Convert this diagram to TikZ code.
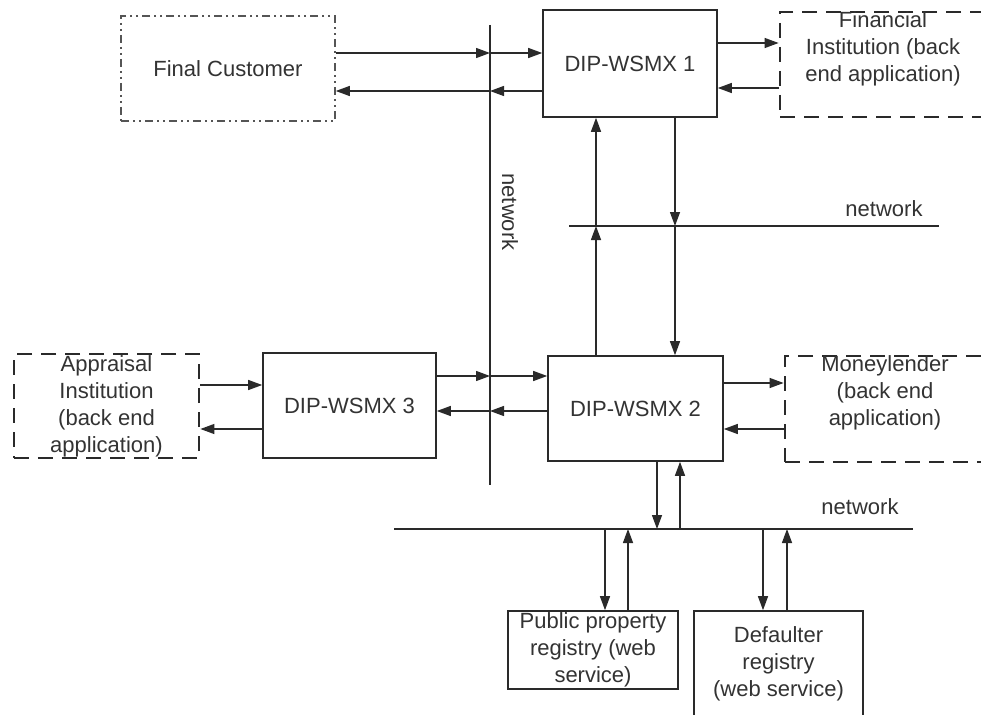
\documentclass[tikz,border=0pt]{standalone}
\usepackage{fontspec}
\setmainfont{Liberation Sans}
\usetikzlibrary{arrows.meta}
\definecolor{txt}{HTML}{333333}
\definecolor{ln}{HTML}{2A2A2A}
\definecolor{dd}{HTML}{555555}
\begin{document}
\begin{tikzpicture}[x=1bp,y=-1bp,
  every node/.style={font=\fontsize{22bp}{27bp}\selectfont, text=txt, inner sep=0pt, align=center},
  sbox/.style={draw=ln, line width=1.6bp, rectangle},
  dbox/.style={draw=ln, line width=2.8bp, rectangle, dash pattern=on 15bp off 9bp},
  ddbox/.style={draw=dd, line width=1.6bp, rectangle, dash pattern=on 8bp off 4bp on 2bp off 4bp on 2bp off 4bp},
  arr/.style={draw=ln, line width=1.3bp, -{Triangle[length=14bp,width=10bp]}},
  netline/.style={draw=ln, line width=1.4bp}
]
\useasboundingbox (0,0) rectangle (981,715);
\fill[white] (0,0) rectangle (981,715);
\clip (0,0) rectangle (981,715);

% boxes
\node[ddbox, minimum width=214bp, minimum height=105bp] (fc) at (228,68.5) {Final Customer};
\node[sbox, minimum width=174bp, minimum height=107bp] (d1) at (630,63.5) {DIP-WSMX 1};
\node[dbox, minimum width=206bp, minimum height=105bp] (fi) at (883,64.5) {};
\node (fitext) at (883,49) {Financial\\Institution (back\\end application)};
\node[sbox, minimum width=175bp, minimum height=105bp] (d2) at (635.5,408.5) {DIP-WSMX 2};
\node[dbox, minimum width=201bp, minimum height=106bp] (ml) at (885.5,409) {};
\node (mltext) at (885,393) {Moneylender\\(back end\\application)};
\node[sbox, minimum width=173bp, minimum height=105bp] (d3) at (349.5,405.5) {DIP-WSMX 3};
\node[dbox, minimum width=185bp, minimum height=104bp] (ap) at (106.5,406) {Appraisal\\Institution\\(back end\\application)};
\node[sbox, minimum width=170bp, minimum height=78bp] (pp) at (593,650) {Public property\\registry (web\\service)};
\node[sbox, minimum width=169bp, minimum height=106bp] (df) at (778.5,664) {Defaulter\\registry\\(web service)};

% network lines
\coordinate (nvt) at (490,25);
\coordinate (nvb) at (490,485);
\draw[netline] (nvt) -- (nvb);
\node[rotate=-90] (nvl) at (510,212) {network};
\coordinate (nh1l) at (569,226);
\coordinate (nh1r) at (939,226);
\draw[netline] (nh1l) -- (nh1r);
\node (nh1t) at (884,209) {network};
\coordinate (nh2l) at (394,529);
\coordinate (nh2r) at (913,529);
\draw[netline] (nh2l) -- (nh2r);
\node (nh2t) at (860,507) {network};

% crossing points
\coordinate (v53) at (490,53);
\coordinate (v91) at (490,91);
\coordinate (v376) at (490,376);
\coordinate (v411) at (490,411);
\coordinate (h596) at (596,226);
\coordinate (h675) at (675,226);
\coordinate (b657) at (657,529);
\coordinate (b680) at (680,529);
\coordinate (b605) at (605,529);
\coordinate (b628) at (628,529);
\coordinate (b763) at (763,529);
\coordinate (b787) at (787,529);
\coordinate (y43) at (0,43);
\coordinate (y88) at (0,88);
\coordinate (y385) at (0,385);
\coordinate (y429) at (0,429);
\coordinate (y383) at (0,383);

% Final Customer <-> DIP-WSMX 1
\draw[arr] (fc.east |- v53) -- (v53);
\draw[arr] (v53) -- (d1.west |- v53);
\draw[arr] (d1.west |- v91) -- (v91);
\draw[arr] (v91) -- (fc.east |- v91);

% DIP-WSMX 1 <-> Financial Institution
\draw[arr] (d1.east |- y43) -- (fi.west |- y43);
\draw[arr] (fi.west |- y88) -- (d1.east |- y88);

% DIP-WSMX 1 <-> DIP-WSMX 2
\draw[arr] (d2.north -| h596) -- (h596);
\draw[arr] (h596) -- (d1.south -| h596);
\draw[arr] (d1.south -| h675) -- (h675);
\draw[arr] (h675) -- (d2.north -| h675);

% DIP-WSMX 3 <-> DIP-WSMX 2
\draw[arr] (d3.east |- v376) -- (v376);
\draw[arr] (v376) -- (d2.west |- v376);
\draw[arr] (d2.west |- v411) -- (v411);
\draw[arr] (v411) -- (d3.east |- v411);

% Appraisal <-> DIP-WSMX 3
\draw[arr] (ap.east |- y385) -- (d3.west |- y385);
\draw[arr] (d3.west |- y429) -- (ap.east |- y429);

% DIP-WSMX 2 <-> Moneylender
\draw[arr] (d2.east |- y383) -- (ml.west |- y383);
\draw[arr] (ml.west |- y429) -- (d2.east |- y429);

% DIP-WSMX 2 <-> bottom network
\draw[arr] (d2.south -| b657) -- (b657);
\draw[arr] (b680) -- (d2.south -| b680);

% registries
\draw[arr] (b605) -- (pp.north -| b605);
\draw[arr] (pp.north -| b628) -- (b628);
\draw[arr] (b763) -- (df.north -| b763);
\draw[arr] (df.north -| b787) -- (b787);
\end{tikzpicture}
\end{document}
